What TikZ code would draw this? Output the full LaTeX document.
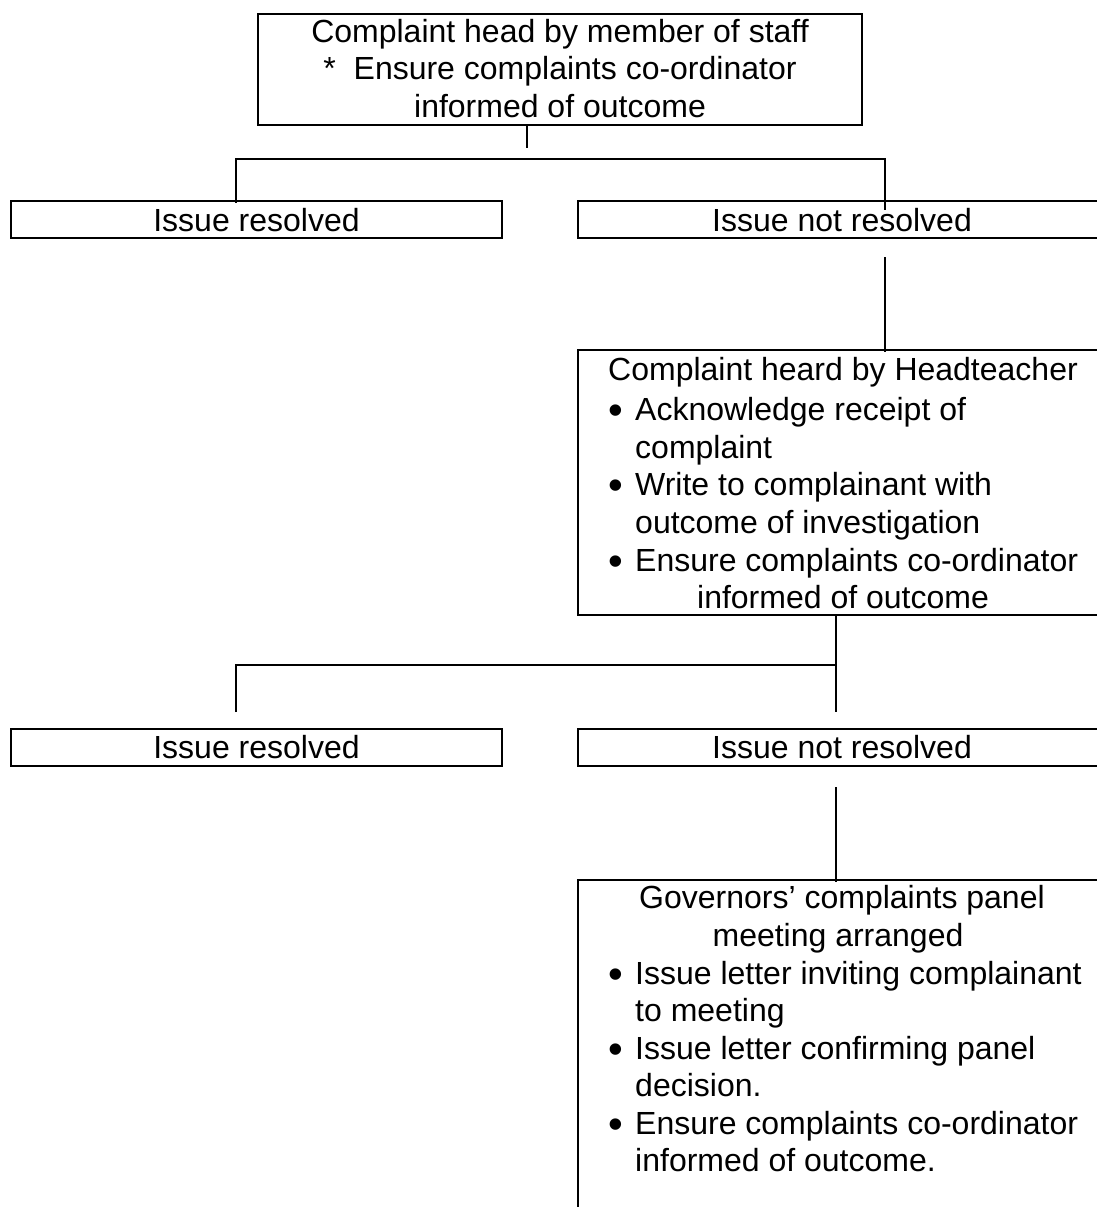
\documentclass[tikz,border=0pt]{standalone}
\usepackage{fontspec}
\setmainfont{Liberation Sans}
\begin{document}
\begin{tikzpicture}[x=1pt,y=-1pt,
  box/.style={draw,line width=2.6pt,inner sep=0pt},
  conn/.style={line width=1.4pt},
  txt/.style={inner sep=0pt,font=\fontsize{32}{37}\selectfont},
  ctr/.style={txt,anchor=base},
  lft/.style={txt,anchor=base west},
  bul/.style={inner sep=0pt,anchor=base,yshift=-4pt,font=\fontsize{42}{42}\selectfont}]
\useasboundingbox (0,0) rectangle (1096,1207);
% boxes
\node[box,minimum width=604pt,minimum height=111pt] (top) at (560,69.5) {};
\node[box,minimum width=491pt,minimum height=37pt] (r1L) at (256.5,219.5) {};
\node[box,minimum width=528pt,minimum height=37pt] (r1R) at (842,219.5) {};
\node[box,minimum width=528pt,minimum height=265pt] (head) at (842,482.5) {};
\node[box,minimum width=491pt,minimum height=37pt] (r2L) at (256.5,747.5) {};
\node[box,minimum width=528pt,minimum height=37pt] (r2R) at (842,747.5) {};
\node[box,minimum width=528pt,minimum height=360pt] (gov) at (842,1060) {};
% texts: top
\node[ctr] (t1) at (560,43) {Complaint head by member of staff};
\node[ctr] (t2) at (560,80) {*\ \ Ensure complaints co-ordinator};
\node[ctr] (t3) at (560,117) {informed of outcome};
% row 1
\node[ctr] (a1) at (256.5,231) {Issue resolved};
\node[ctr] (a2) at (842,231) {Issue not resolved};
% headteacher
\node[ctr] (h1) at (843,380) {Complaint heard by Headteacher};
\node[bul] (hb1) at (616,420) {•};
\node[lft] (h2) at (635,420) {Acknowledge receipt of};
\node[lft] (h3) at (635,458) {complaint};
\node[bul] (hb2) at (616,495) {•};
\node[lft] (h4) at (635,495) {Write to complainant with};
\node[lft] (h5) at (635,533) {outcome of investigation};
\node[bul] (hb3) at (616,571) {•};
\node[lft] (h6) at (635,571) {Ensure complaints co-ordinator};
\node[ctr] (h7) at (843,608) {informed of outcome};
% row 2
\node[ctr] (b1) at (256.5,758) {Issue resolved};
\node[ctr] (b2) at (842,758) {Issue not resolved};
% governors
\node[ctr] (g1) at (842,908) {Governors’ complaints panel};
\node[ctr] (g2) at (838,946) {meeting arranged};
\node[bul] (gb1) at (616,984) {•};
\node[lft] (g3) at (635,984) {Issue letter inviting complainant};
\node[lft] (g4) at (635,1021) {to meeting};
\node[bul] (gb2) at (616,1059) {•};
\node[lft] (g5) at (635,1059) {Issue letter confirming panel};
\node[lft] (g6) at (635,1096) {decision.};
\node[bul] (gb3) at (616,1134) {•};
\node[lft] (g7) at (635,1134) {Ensure complaints co-ordinator};
\node[lft] (g8) at (635,1171) {informed of outcome.};
% connectors
\coordinate (s1) at (527,148);
\coordinate (h1L) at (236,159);
\coordinate (h1R) at (885,159);
\coordinate (v1a) at (885,257);
\coordinate (h2R) at (836,665);
\coordinate (h2L) at (236,665);
\coordinate (e2R) at (836,712);
\coordinate (e2L) at (236,712);
\coordinate (v2a) at (836,787);
\draw[conn] (top.south -| s1) -- (s1);
\draw[conn] ([yshift=-3pt]h1L |- r1L.north) -- (h1L) -- (h1R) -- ([yshift=-10pt]h1R |- r1R.north);
\draw[conn] (v1a) -- ([yshift=-3pt]v1a |- head.north);
\draw[conn] (head.south -| h2R) -- (e2R);
\draw[conn] (e2L) -- (h2L) -- (h2R);
\draw[conn] (v2a) -- ([yshift=-3pt]v2a |- gov.north);
\end{tikzpicture}
\end{document}
